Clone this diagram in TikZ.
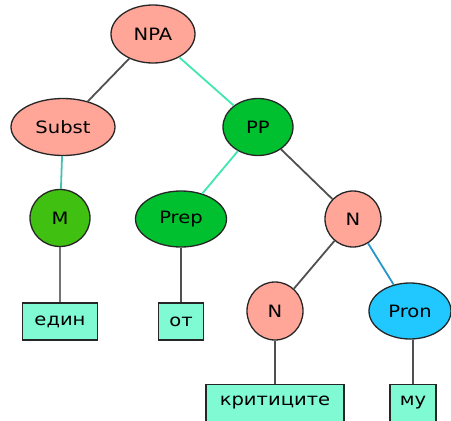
\documentclass[tikz,border=0pt]{standalone}
\usepackage{fontspec}
\setmainfont{DejaVu Sans}[FakeStretch=1.15]
\usepackage{tikz}
\usetikzlibrary{shapes.geometric}

\definecolor{salmonfill}{RGB}{255,166,153}
\definecolor{greenfill}{RGB}{0,192,48}
\definecolor{limefill}{RGB}{64,192,16}
\definecolor{bluefill}{RGB}{32,200,255}
\definecolor{wordfill}{RGB}{128,250,210}
\definecolor{aqualine}{RGB}{64,232,176}
\definecolor{teallline}{RGB}{72,192,176}
\definecolor{blueline}{RGB}{40,150,200}
\definecolor{grayline}{RGB}{80,80,80}

\tikzset{
  cat/.style={draw=black!85, line width=1.3pt, ellipse, inner sep=0pt, font=\fontsize{17}{19}\selectfont},
  word/.style={draw=black!85, line width=1.3pt, rectangle, fill=wordfill, inner sep=0pt, minimum height=37pt, font=\fontsize{17}{19}\selectfont},
  link/.style={line width=1.8pt}
}

\begin{document}
\begin{tikzpicture}[x=1pt, y=-1pt]
    \useasboundingbox (0,0) rectangle (451,421);

    % Top level
    \node (npa) [cat, fill=salmonfill, minimum width=84pt, minimum height=58pt] at (153,34) {NPA};

    % Second level
    \node (subst) [cat, fill=salmonfill, minimum width=104pt, minimum height=57pt] at (63,127) {Subst};
    \node (pp) [cat, fill=greenfill, minimum width=70pt, minimum height=57pt] at (258,127) {PP};

    % Third level
    \node (m) [cat, fill=limefill, minimum width=60pt, minimum height=57pt] at (60,218) {M};
    \node (prep) [cat, fill=greenfill, minimum width=91pt, minimum height=56pt] at (181,219) {Prep};
    \node (n1) [cat, fill=salmonfill, minimum width=56pt, minimum height=56pt] at (353,219) {N};

    % Fourth level
    \node (n2) [cat, fill=salmonfill, minimum width=56pt, minimum height=58pt] at (275,311) {N};
    \node (pron) [cat, fill=bluefill, minimum width=82pt, minimum height=56pt] at (410,311) {Pron};

    % Words
    \node (edin) [word, minimum width=75pt] at (60,321.5) {един};
    \node (ot) [word, minimum width=45pt] at (181,321.5) {от};
    \node (kritici) [word, minimum width=138pt] at (275,403) {критиците};
    \node (mu) [word, minimum width=46pt] at (413,403) {му};

    % Branches
    \draw[link, grayline] (npa) -- (subst);
    \draw[link, aqualine] (npa) -- (pp);
    \draw[link, teallline] (subst) -- (m);
    \draw[link, aqualine] (pp) -- (prep);
    \draw[link, grayline] (pp) -- (n1);
    \draw[link, grayline] (n1) -- (n2);
    \draw[link, blueline] (n1) -- (pron);

    % Leaves
    \draw[link, grayline!80] (m) -- (edin);
    \draw[link, grayline] (prep) -- (ot);
    \draw[link, grayline] (n2) -- (kritici);
    \draw[link, grayline] (mu) -- (mu |- pron.south);
\end{tikzpicture}
\end{document}
